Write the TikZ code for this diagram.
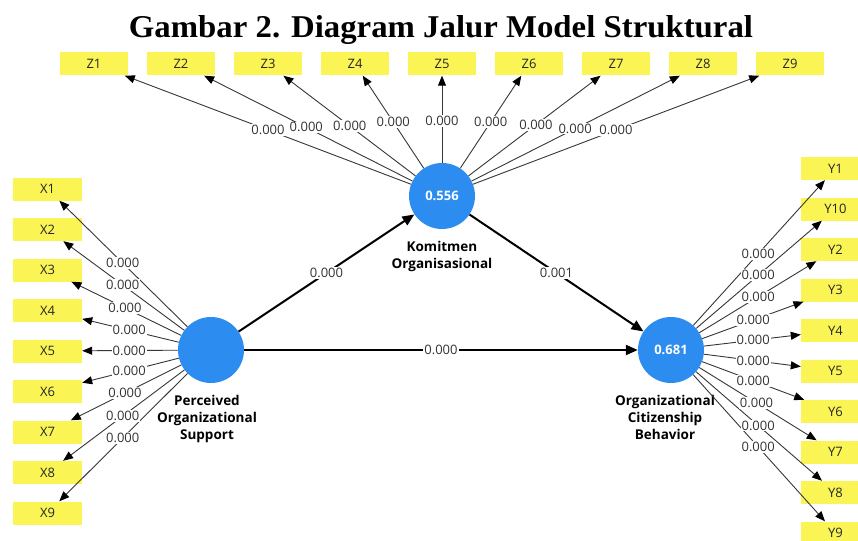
\documentclass[tikz,border=0pt]{standalone}
\usepackage{fontspec}
\usepackage{graphicx}
\setmainfont{Open Sans}
\newfontfamily\titlefont{Liberation Serif}
\usetikzlibrary{arrows.meta,calc}
\definecolor{lvblue}{RGB}{45,140,240}
\definecolor{indyellow}{RGB}{250,245,85}
\definecolor{lgray}{RGB}{55,55,55}
\begin{document}
\begin{tikzpicture}[x=1pt,y=-1pt,
  latent/.style={circle,fill=lvblue,minimum size=66pt,inner sep=0pt,text=white,font=\fontsize{13}{15}\selectfont\bfseries},
  ind/.style={fill=indyellow,minimum width=69pt,minimum height=23pt,inner sep=0pt,font=\fontsize{13}{15}\selectfont,text=black!85},
  latlbl/.style={align=center,font=\fontsize{13.5}{17}\selectfont\bfseries,inner sep=0pt},
  indarr/.style={draw=lgray,line width=0.9pt,-{Triangle[length=10pt,width=8pt,color=black]}},
  strarr/.style={draw=black,line width=2pt,-{Triangle[length=12pt,width=10pt]}},
  val/.style={fill=white,inner sep=1pt,font=\fontsize{13}{15}\selectfont,text=black!80}
]
\clip (0,0) rectangle (858,540);
\fill[white] (0,0) rectangle (858,540);

% title
\node[anchor=base,inner sep=0pt] (title) at (441,38) {\resizebox{624pt}{22pt}{\titlefont\bfseries Gambar 2. Diagram Jalur Model Struktural}};

% latent variables
\node[latent] (pos) at (211,350) {};
\node[latent] (kom) at (442,196) {0.556};
\node[latent] (ocb) at (671,350) {0.681};
\node[latlbl] (posl) at (207,418.5) {Perceived\\Organizational\\Support};
\node[latlbl] (koml) at (442,256.5) {Komitmen\\Organisasional};
\node[latlbl] (ocbl) at (665,417.5) {Organizational\\Citizenship\\Behavior};

% indicators
\foreach \i in {1,...,9} {
  \node[ind,minimum width=68pt] (z\i) at ({94+87*(\i-1)},64) {Z\i};
  \node[ind] (x\i) at (47.5,{189+40.5*(\i-1)}) {X\i};
}
\foreach \k/\t in {1/Y1,2/Y10,3/Y2,4/Y3,5/Y4,6/Y5,7/Y6,8/Y7,9/Y8,10/Y9} {
  \node[ind] (y\k) at (835.5,{168.5+40.5*(\k-1)}) {\t};
}

% indicator connectors
\foreach \i in {1,...,9} {
  \draw[indarr] (kom) -- (z\i);
  \draw[indarr] (pos) -- (x\i);
}
\foreach \k in {1,...,10} {
  \draw[indarr] (ocb) -- (y\k);
}

% structural connectors
\draw[strarr] (pos) -- (kom);
\draw[strarr] (kom) -- (ocb);
\draw[strarr] (pos) -- (ocb);

% values on indicator connectors
\foreach \i/\f in {1/0.50,2/0.52,3/0.53,4/0.56,5/0.57,6/0.56,7/0.54,8/0.51,9/0.50} {
  \node[val] (vz\i) at ($(kom.center)!\f!(z\i.center)$) {0.000};
}
\foreach \i/\f in {1/0.54,2/0.54,3/0.526,4/0.50,5/0.50,6/0.50,7/0.526,8/0.54,9/0.54} {
  \node[val] (vx\i) at ($(pos.center)!\f!(x\i.center)$) {0.000};
}
\foreach \k/\f in {1/0.53,2/0.53,3/0.53,4/0.50,5/0.50,6/0.50,7/0.50,8/0.52,9/0.53,10/0.53} {
  \node[val] (vy\k) at ($(ocb.center)!\f!(y\k.center)$) {0.000};
}

% values on structural connectors
\node[val] (vpk) at ($(pos.center)!0.5!(kom.center)$) {0.000};
\node[val] (vko) at ($(kom.center)!0.5!(ocb.center)$) {0.001};
\node[val] (vpo) at ($(pos.center)!0.5!(ocb.center)$) {0.000};
\end{tikzpicture}
\end{document}
